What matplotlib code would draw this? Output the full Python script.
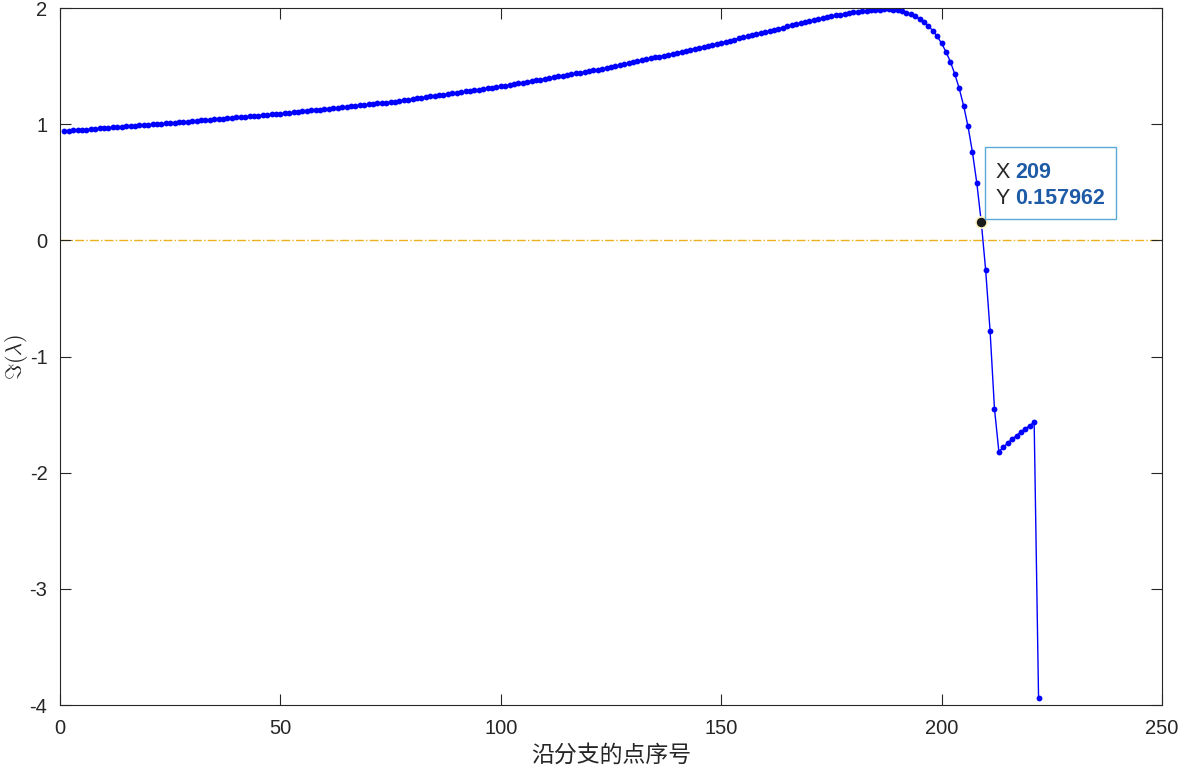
import numpy as np
import matplotlib
matplotlib.use("Agg")
from matplotlib import pyplot as plt
from matplotlib.patches import Rectangle
from matplotlib.transforms import IdentityTransform

# ------------------------------------------------------------------------------
#  Data: imaginary part of eigenvalue along the branch
# ------------------------------------------------------------------------------
point_index = list(range(1, 223))

im_lambda = [
    # 1 - 25
    0.940, 0.943, 0.946, 0.949, 0.952, 0.954, 0.957, 0.960, 0.963, 0.966,
    0.969, 0.972, 0.975, 0.978, 0.981, 0.984, 0.986, 0.989, 0.992, 0.995,
    0.998, 1.001, 1.004, 1.007, 1.010,
    # 26 - 50
    1.013, 1.016, 1.020, 1.023, 1.026, 1.029, 1.032, 1.036, 1.039, 1.042,
    1.045, 1.048, 1.052, 1.055, 1.058, 1.061, 1.064, 1.068, 1.071, 1.074,
    1.077, 1.080, 1.084, 1.087, 1.090,
    # 51 - 75
    1.094, 1.098, 1.102, 1.106, 1.110, 1.114, 1.118, 1.122, 1.126, 1.130,
    1.134, 1.138, 1.142, 1.146, 1.150, 1.154, 1.158, 1.162, 1.166, 1.170,
    1.174, 1.178, 1.182, 1.186, 1.190,
    # 76 - 100
    1.195, 1.201, 1.206, 1.212, 1.217, 1.222, 1.228, 1.233, 1.239, 1.244,
    1.249, 1.255, 1.260, 1.266, 1.271, 1.276, 1.282, 1.287, 1.293, 1.298,
    1.303, 1.309, 1.314, 1.320, 1.325,
    # 101 - 125
    1.332, 1.338, 1.345, 1.351, 1.358, 1.365, 1.371, 1.378, 1.384, 1.391,
    1.398, 1.404, 1.411, 1.417, 1.424, 1.431, 1.437, 1.444, 1.450, 1.457,
    1.464, 1.470, 1.477, 1.483, 1.490,
    # 126 - 150
    1.498, 1.507, 1.515, 1.524, 1.532, 1.540, 1.549, 1.557, 1.566, 1.574,
    1.582, 1.591, 1.599, 1.608, 1.616, 1.624, 1.633, 1.641, 1.650, 1.658,
    1.666, 1.675, 1.683, 1.692, 1.700,
    # 151 - 175
    1.709, 1.719, 1.728, 1.738, 1.747, 1.757, 1.766, 1.776, 1.785, 1.794,
    1.804, 1.813, 1.823, 1.832, 1.842, 1.851, 1.861, 1.870, 1.879, 1.888,
    1.897, 1.905, 1.913, 1.921, 1.929,
    # 176 - 200
    1.936, 1.943, 1.950, 1.956, 1.962, 1.967, 1.972, 1.977, 1.981, 1.984,
    1.987, 1.988, 1.988, 1.986, 1.980, 1.972, 1.961, 1.946, 1.929, 1.906,
    1.879, 1.847, 1.804, 1.756, 1.696,
    # 201 - 222
    1.623, 1.537, 1.431, 1.308, 1.158, 0.980, 0.759, 0.491, 0.157962, -0.257,
    -0.780, -1.450, -1.820, -1.780, -1.745, -1.710, -1.680, -1.650, -1.620,
    -1.595, -1.565, -3.940,
]

tip_x = 209
tip_y = im_lambda[point_index.index(tip_x)]

x_ticks = [0, 50, 100, 150, 200, 250]
y_ticks = [-4, -3, -2, -1, 0, 1, 2]

# ------------------------------------------------------------------------------
#  Plot
# ------------------------------------------------------------------------------
plt.rcParams["font.family"] = ["Liberation Sans", "DejaVu Sans"]
plt.rcParams["mathtext.fontset"] = "cm"
plt.rcParams["axes.unicode_minus"] = False

fig = plt.figure(figsize=(11.81, 7.70), dpi=100)
ax = fig.add_axes([0.0508, 0.0844, 0.9331, 0.9052])

ax.axhline(0, color="#EDB120", lw=1.0, ls="-.", zorder=1)
ax.plot(point_index, im_lambda, "-", color="#0000FF", lw=1.0,
        marker="o", ms=4.2, mew=0, zorder=2)

ax.set_xlim(0, 250)
ax.set_ylim(-4, 2)
ax.set_xticks(x_ticks)
ax.set_yticks(y_ticks)
ax.tick_params(direction="in", length=8, width=0.8, colors="#262626",
               labelsize=14.5, top=True, right=True)
ax.tick_params(axis="x", pad=10)
ax.tick_params(axis="y", pad=9)
for sp in ax.spines.values():
    sp.set_color("#262626")
    sp.set_linewidth(0.8)

ax.set_xlabel("沿分支的点序号", fontsize=16.5, color="#262626",
              family=["Noto Sans CJK SC", "DejaVu Sans"], labelpad=4)
ax.set_ylabel(r"$\Im(\lambda)$", fontsize=16, color="#262626", labelpad=0)

# datatip
ax.plot(tip_x, tip_y, "o", ms=8, mfc="#1A1A1A", mec="#FFF3C4", mew=1.2,
        zorder=5)
fig.canvas.draw()
px, py = ax.transData.transform((tip_x, tip_y))
ax.add_artist(Rectangle((px + 4, py + 3), 131, 72, transform=IdentityTransform(),
                        facecolor="white", edgecolor="#5AAAD9", lw=1.0,
                        clip_on=False, zorder=6))
lab = dict(xy=(tip_x, tip_y), textcoords="offset pixels", fontsize=15.5,
           va="center", ha="left", zorder=7)
ax.annotate("X", xytext=(14, 49), color="#262626", **lab)
ax.annotate(str(tip_x), xytext=(34, 49), color="#1E5BA6", fontweight="bold", **lab)
ax.annotate("Y", xytext=(14, 23), color="#262626", **lab)
ax.annotate("%g" % tip_y, xytext=(34, 23), color="#1E5BA6", fontweight="bold", **lab)

fig.savefig("out.png", dpi=100)
